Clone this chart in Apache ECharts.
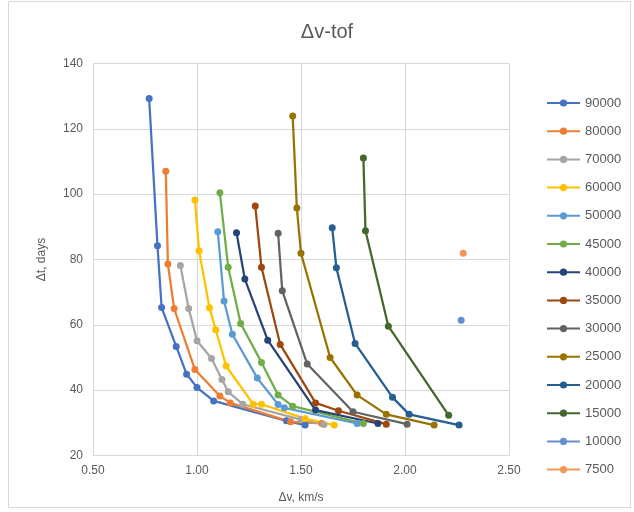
<!DOCTYPE html>
<html>
<head>
<meta charset="utf-8">
<script src="https://cdn.jsdelivr.net/npm/echarts@6/dist/echarts.min.js"></script>
<style>
  html, body { margin: 0; padding: 0; background: #fff; }
  #chart { width: 634px; height: 512px; }
</style>
</head>
<body>
<div id="chart"></div>
<script>
// Δv (km/s) and Δt (days) per series
const dv_90000 = [0.77, 0.81, 0.83, 0.90, 0.95, 1.00, 1.08, 1.43, 1.52];
const dt_90000 = [129.3, 84.2, 65.3, 53.4, 44.9, 40.8, 36.7, 30.6, 29.3];
const dv_80000 = [0.85, 0.86, 0.89, 0.99, 1.11, 1.16, 1.45, 1.60];
const dt_80000 = [107.0, 78.6, 65.0, 46.3, 38.2, 36.1, 30.3, 29.8];
const dv_70000 = [0.92, 0.96, 1.00, 1.07, 1.12, 1.15, 1.22, 1.50, 1.61];
const dt_70000 = [78.2, 65.0, 55.1, 49.7, 43.3, 39.5, 35.7, 31.0, 29.5];
const dv_60000 = [0.99, 1.01, 1.06, 1.09, 1.14, 1.27, 1.31, 1.52, 1.66];
const dt_60000 = [98.2, 82.7, 65.2, 58.5, 47.4, 35.7, 35.7, 31.3, 29.3];
const dv_50000 = [1.10, 1.13, 1.17, 1.29, 1.39, 1.42, 1.77];
const dt_50000 = [88.5, 67.3, 57.1, 43.7, 35.6, 34.6, 29.8];
const dv_45000 = [1.11, 1.15, 1.21, 1.31, 1.39, 1.46, 1.80];
const dt_45000 = [100.4, 77.6, 60.4, 48.5, 38.5, 35.1, 29.8];
const dv_40000 = [1.19, 1.23, 1.34, 1.57, 1.87];
const dt_40000 = [88.2, 74.0, 55.3, 33.9, 29.8];
const dv_35000 = [1.28, 1.31, 1.40, 1.57, 1.68, 1.91];
const dt_35000 = [96.4, 77.6, 54.0, 36.1, 33.7, 29.6];
const dv_30000 = [1.39, 1.41, 1.53, 1.75, 2.01];
const dt_30000 = [88.0, 70.4, 48.0, 33.4, 29.6];
const dv_25000 = [1.46, 1.48, 1.50, 1.64, 1.77, 1.91, 2.14];
const dt_25000 = [123.9, 95.8, 81.9, 50.0, 38.5, 32.6, 29.3];
const dv_20000 = [1.65, 1.67, 1.76, 1.94, 2.02, 2.26];
const dt_20000 = [89.7, 77.5, 54.3, 37.8, 32.6, 29.3];
const dv_15000 = [1.80, 1.81, 1.92, 2.21];
const dt_15000 = [111.1, 88.8, 59.6, 32.3];
const dv_10000 = [2.27];
const dt_10000 = [61.4];
const dv_7500 = [2.28];
const dt_7500 = [81.9];

const seriesNames = ['90000', '80000', '70000', '60000', '50000', '45000', '40000',
                     '35000', '30000', '25000', '20000', '15000', '10000', '7500'];
const seriesDv = [dv_90000, dv_80000, dv_70000, dv_60000, dv_50000, dv_45000, dv_40000,
                  dv_35000, dv_30000, dv_25000, dv_20000, dv_15000, dv_10000, dv_7500];
const seriesDt = [dt_90000, dt_80000, dt_70000, dt_60000, dt_50000, dt_45000, dt_40000,
                  dt_35000, dt_30000, dt_25000, dt_20000, dt_15000, dt_10000, dt_7500];
const palette = ['#4472C4', '#ED7D31', '#A5A5A5', '#FFC000', '#5B9BD5', '#70AD47', '#264478',
                 '#9E480E', '#636363', '#997300', '#255E91', '#43682B', '#698ED0', '#F1975A'];

const FONT = '"Liberation Sans", "DejaVu Sans", sans-serif';
const TEXT = '#595959';
const GRID = '#D9D9D9';

const series = seriesNames.map((name, i) => ({
  name: name,
  type: 'line',
  data: seriesDv[i].map((x, k) => [x, seriesDt[i][k]]),
  symbol: 'circle',
  symbolSize: 7,
  showSymbol: true,
  lineStyle: { width: 2.25, color: palette[i] },
  itemStyle: { color: palette[i] },
  emphasis: { disabled: true },
  animation: false
}));

const chart = echarts.init(document.getElementById('chart'), null, { renderer: 'canvas' });
chart.setOption({
  backgroundColor: '#fff',
  animation: false,
  title: {
    text: 'Δv-tof',
    left: 322,
    textAlign: 'center',
    top: 17,
    textStyle: { fontFamily: FONT, fontSize: 20, fontWeight: 'normal', color: TEXT }
  },
  graphic: [{
    type: 'rect',
    shape: { x: 8.5, y: 1.5, width: 622, height: 506 },
    style: { fill: 'none', stroke: GRID, lineWidth: 1 },
    silent: true,
    z: -1
  }],
  legend: {
    orient: 'vertical',
    left: 546,
    top: 96,
    padding: 0,
    itemWidth: 33,
    itemHeight: 9,
    itemGap: 14.2,
    data: seriesNames,
    textStyle: { fontFamily: FONT, fontSize: 13, color: TEXT, lineHeight: 14 }
  },
  grid: { left: 93, top: 63.5, width: 416, height: 392, containLabel: false },
  xAxis: {
    type: 'value',
    min: 0.5, max: 2.5, interval: 0.5,
    name: 'Δv, km/s',
    nameLocation: 'middle',
    nameGap: 36,
    nameTextStyle: { fontFamily: FONT, fontSize: 12, color: TEXT },
    axisLine: { show: true, lineStyle: { color: GRID } },
    axisTick: { show: false },
    axisLabel: { fontFamily: FONT, fontSize: 12, color: TEXT, margin: 9,
                 formatter: v => v.toFixed(2) },
    splitLine: { show: true, lineStyle: { color: GRID, width: 1 } }
  },
  yAxis: {
    type: 'value',
    min: 20, max: 140, interval: 20,
    name: 'Δt, days',
    nameLocation: 'middle',
    nameGap: 45,
    nameTextStyle: { fontFamily: FONT, fontSize: 12, color: TEXT },
    axisLine: { show: true, lineStyle: { color: GRID } },
    axisTick: { show: false },
    axisLabel: { fontFamily: FONT, fontSize: 12, color: TEXT, margin: 10 },
    splitLine: { show: true, lineStyle: { color: GRID, width: 1 } }
  },
  series: series
});
</script>
</body>
</html>
